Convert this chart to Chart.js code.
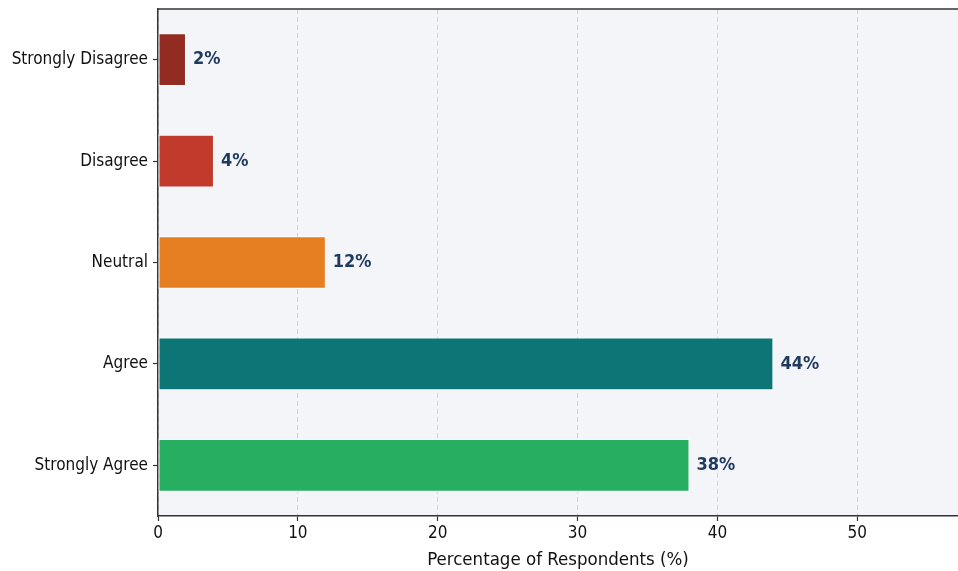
<!DOCTYPE html>
<html>
<head>
<meta charset="utf-8">
<script src="https://cdn.jsdelivr.net/npm/chart.js@4"></script>
<style>
  html, body { margin: 0; padding: 0; background: #fff; }
  #wrap { width: 958px; height: 571px; }
</style>
</head>
<body>
<div id="wrap"><canvas id="myChart"></canvas></div>
<script>
const categorias = ['Strongly Disagree', 'Disagree', 'Neutral', 'Agree', 'Strongly Agree'];
const porcentajes = [2, 4, 12, 44, 38];
const colores = ['#922b21', '#c0392b', '#e67e22', '#0e7577', '#27ae60'];
const ticksX = [0, 10, 20, 30, 40, 50];

const fuente = "'DejaVu Sans Condensed', 'DejaVu Sans', sans-serif";

// fondo del area y linea superior
const marco = {
  id: 'marco',
  beforeDraw(chart) {
    const { ctx, chartArea: a } = chart;
    ctx.save();
    ctx.fillStyle = '#f4f5f8';
    ctx.fillRect(a.left, a.top, a.right - a.left, a.bottom - a.top);
    ctx.restore();
  },
  afterDraw(chart) {
    const { ctx, chartArea: a } = chart;
    ctx.save();
    ctx.strokeStyle = '#333333';
    ctx.lineWidth = 1.5;
    ctx.beginPath();
    ctx.moveTo(a.left, a.top);
    ctx.lineTo(a.right, a.top);
    ctx.stroke();
    ctx.restore();
  }
};

// etiquetas al final de cada barra
const etiquetas = {
  id: 'etiquetas',
  afterDatasetsDraw(chart) {
    const { ctx } = chart;
    const meta = chart.getDatasetMeta(0);
    ctx.save();
    ctx.font = "bold 18px " + fuente;
    ctx.fillStyle = '#1f3a5f';
    ctx.textBaseline = 'middle';
    meta.data.forEach((bar, i) => {
      ctx.fillText(porcentajes[i] + '%', bar.x + 7, bar.y);
    });
    ctx.restore();
  }
};

const ctx = document.getElementById('myChart');

new Chart(ctx, {
  type: 'bar',
  data: {
    labels: categorias,
    datasets: [{
      data: porcentajes,
      backgroundColor: colores,
      borderColor: '#ffffff',
      borderWidth: 1,
      borderSkipped: false,
      categoryPercentage: 1,
      barPercentage: 0.52
    }]
  },
  options: {
    indexAxis: 'y',
    responsive: true,
    maintainAspectRatio: false,
    animation: false,
    layout: { padding: { top: 9, right: 0, left: 0, bottom: 0 } },
    plugins: {
      legend: { display: false },
      tooltip: { enabled: false }
    },
    scales: {
      x: {
        min: 0,
        max: 57.2,
        afterBuildTicks: axis => { axis.ticks = ticksX.map(v => ({ value: v })); },
        afterFit: scale => { scale.height = 55; },
        grid: {
          color: '#d2d2d2',
          lineWidth: 1,
          drawTicks: true,
          tickLength: 5,
          tickColor: '#333333',
          tickWidth: 1.2
        },
        border: { display: true, color: '#333333', width: 1.5, dash: [5, 3] },
        ticks: {
          color: '#111',
          padding: 2,
          font: { family: fuente, size: 17 }
        },
        title: {
          display: true,
          text: 'Percentage of Respondents (%)',
          color: '#111',
          padding: { top: 0, bottom: 0 },
          font: { family: fuente, size: 18.5 }
        }
      },
      y: {
        afterFit: scale => {
          scale.width = 158;
          scale.paddingTop = 0;
          scale.paddingBottom = 0;
        },
        grid: {
          offset: false,
          drawOnChartArea: false,
          drawTicks: true,
          tickLength: 5,
          tickColor: '#333333',
          tickWidth: 1.2
        },
        border: { display: true, color: '#333333', width: 1.5 },
        ticks: {
          color: '#111',
          padding: 5,
          font: { family: fuente, size: 17 }
        }
      }
    }
  },
  plugins: [marco, etiquetas]
});
</script>
</body>
</html>
